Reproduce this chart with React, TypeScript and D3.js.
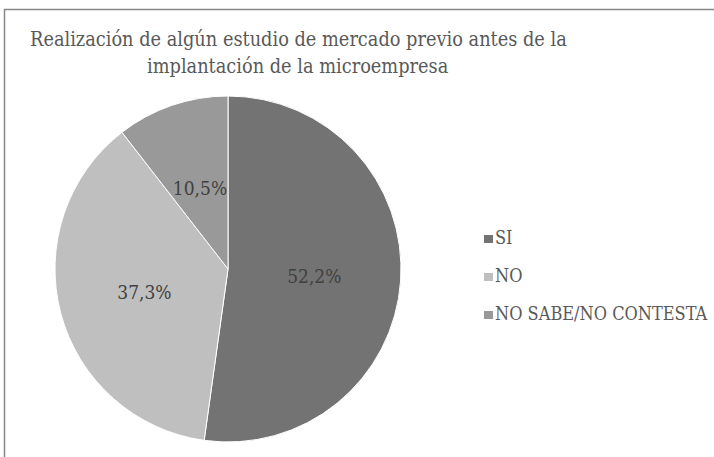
import React from 'react';
import * as d3 from 'd3';

const categories = ['SI', 'NO', 'NO SABE/NO CONTESTA'];
const values = [52.2, 37.3, 10.5];
const labels = ['52,2%', '37,3%', '10,5%'];
const colors = ['#737373', '#bfbfbf', '#999999'];
const titleLines = [
  'Realización de algún estudio de mercado previo antes de la',
  'implantación de la microempresa',
];

const App = () => {
  const w = 714, h = 457;
  const cx = 228, cy = 269, r = 173;

  const pie = d3.pie<number>().sort(null).value(d => d);
  const arcs = pie(values);
  const arc = d3.arc<d3.PieArcDatum<number>>().innerRadius(0).outerRadius(r);
  const labelArc = d3.arc<d3.PieArcDatum<number>>().innerRadius(r * 0.5).outerRadius(r * 0.5);

  // legend rows
  const legendY = d3.scalePoint<string>().domain(categories).range([244, 320]);

  const font = "'DejaVu Serif Condensed', 'DejaVu Serif', serif";

  return (
    <svg width={w} height={h} style={{ position: 'absolute', left: 0, top: 0, background: '#fff' }}>
      <rect x={4.5} y={9.5} width={740} height={480} fill="#fff" stroke="#868686" strokeWidth={1.5} />
      <g fontFamily={font} fill="#595959">
        <text x={30} y={46} fontSize={19.75}>{titleLines[0]}</text>
        <text x={147} y={73} fontSize={19.75}>{titleLines[1]}</text>
      </g>
      <g transform={`translate(${cx},${cy})`}>
        {arcs.map((a, i) => (
          <path key={i} d={arc(a) || ''} fill={colors[i]} stroke="#fff" strokeWidth={1} />
        ))}
        {arcs.map((a, i) => {
          const [lx, ly] = labelArc.centroid(a);
          return (
            <text key={i} x={lx} y={ly} dy="0.4em" textAnchor="middle" fontFamily={font} fontSize={19} fill="#404040">
              {labels[i]}
            </text>
          );
        })}
      </g>
      <g fontFamily={font} fontSize={18} fill="#595959">
        {categories.map((c, i) => (
          <g key={c}>
            <rect x={484} y={(legendY(c) as number) - 9} width={9} height={8} fill={colors[i]} />
            <text x={495} y={legendY(c)}>{c}</text>
          </g>
        ))}
      </g>
    </svg>
  );
};

export default App;
